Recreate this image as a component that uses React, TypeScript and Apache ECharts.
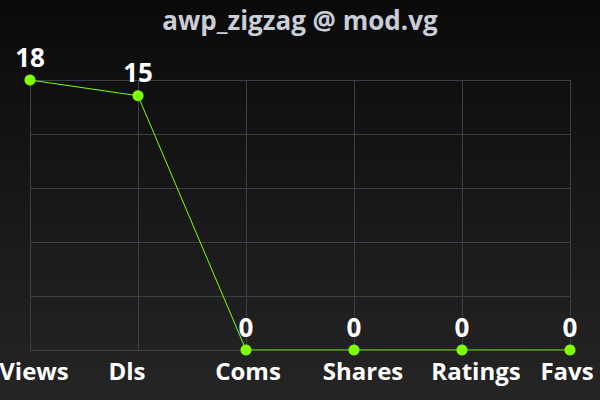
import { useEffect, useRef } from 'react';
import * as echarts from 'echarts';

const categories = ['Views', 'Dls', 'Coms', 'Shares', 'Ratings', 'Favs'];
const values = [18, 15, 0, 0, 0, 0];
const title = 'awp_zigzag @ mod.vg';

// log scale of (v + 1), five equal bands between 1 and 19
const LOG_BASE = Math.pow(19, 1 / 5);
// small horizontal nudges of the category labels, px
const labelShift = [4, -11, 2, 9, 14, -3];

const FONT = '"Open Sans", "Noto Sans", sans-serif';

export default function App() {
  const ref = useRef<HTMLDivElement>(null);

  useEffect(() => {
    if (!ref.current) return;
    document.body.style.margin = '0';
    const chart = echarts.init(ref.current, undefined, { renderer: 'svg' });

    const rich: Record<string, any> = {};
    labelShift.forEach((dx, i) => {
      rich['c' + i] = {
        color: '#ffffff',
        fontSize: 24,
        fontWeight: 'bold',
        fontFamily: FONT,
        padding: dx >= 0 ? [0, 0, 0, dx * 2] : [0, -dx * 2, 0, 0],
      };
    });

    chart.setOption({
      animation: false,
      backgroundColor: new echarts.graphic.LinearGradient(0, 0, 0, 1, [
        { offset: 0, color: '#0a0a0a' },
        { offset: 1, color: '#252525' },
      ]),
      title: {
        text: title,
        left: 'center',
        top: 2,
        textStyle: {
          color: '#c9cdd8',
          fontSize: 26,
          fontWeight: 'bold',
          fontFamily: FONT,
        },
      },
      grid: {
        left: 30,
        right: 30,
        top: 80,
        bottom: 50,
        containLabel: false,
        outerBoundsMode: 'none',
      },
      xAxis: {
        type: 'category',
        data: categories,
        boundaryGap: false,
        axisLine: { lineStyle: { color: '#3a4049', width: 1 } },
        axisTick: { show: false },
        splitLine: { show: true, lineStyle: { color: '#3a4049', width: 1 } },
        axisLabel: {
          interval: 0,
          margin: 8,
          hideOverlap: false,
          formatter: (v: string, i: number) => `{c${i}|${v}}`,
          rich,
        },
      },
      yAxis: {
        type: 'log',
        logBase: LOG_BASE,
        min: 1,
        max: 19,
        interval: 1,
        axisLine: { show: false },
        axisTick: { show: false },
        axisLabel: { show: false },
        splitLine: { show: true, lineStyle: { color: '#3a4049', width: 1 } },
      },
      series: [
        {
          type: 'line',
          data: values.map((v) => v + 1),
          lineStyle: { color: '#7fff00', width: 1 },
          itemStyle: { color: '#7fff00' },
          symbol: 'circle',
          symbolSize: 11,
          label: {
            show: true,
            position: 'top',
            distance: 5,
            color: '#ffffff',
            fontSize: 26,
            fontWeight: 'bold',
            fontFamily: FONT,
            formatter: (p: any) => String(values[p.dataIndex]),
          },
        },
      ],
    });

    return () => chart.dispose();
  }, []);

  return <div ref={ref} style={{ width: 600, height: 400 }} />;
}
